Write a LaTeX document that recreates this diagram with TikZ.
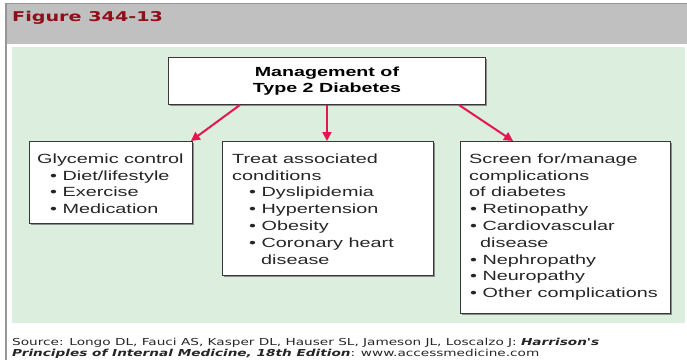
\documentclass[tikz,border=0pt]{standalone}
\usepackage{fontspec}
\usetikzlibrary{arrows.meta,shadows}
\newfontfamily\boxfont[FakeStretch=1.49]{Liberation Sans}
\newfontfamily\webfont[FakeStretch=1.42]{DejaVu Sans}
\definecolor{hdrgray}{RGB}{192,192,192}
\definecolor{edgegray}{RGB}{150,150,150}
\definecolor{panel}{RGB}{220,238,222}
\definecolor{arrowred}{RGB}{228,22,80}
\definecolor{figred}{RGB}{145,14,24}
\tikzset{
  box/.style={draw=black!78, line width=0.9pt, fill=white, anchor=north west,
    inner sep=0pt, drop shadow={shadow xshift=1.6pt, shadow yshift=-1.6pt, fill=black!45, opacity=1}},
  body/.style={font=\boxfont\fontsize{13.3}{16}\selectfont, text=black!85, anchor=base west, inner sep=0pt},
  arr/.style={draw=arrowred, line width=2pt, -{Triangle[length=9pt,width=9pt]}},
  src/.style={font=\webfont\fontsize{9.6}{11}\selectfont, text=black!85, anchor=base west, inner sep=0pt}
}
\newcommand{\srcem}[1]{{\bfseries\itshape #1}}
\begin{document}
\begin{tikzpicture}[x=1pt,y=-1pt]
\useasboundingbox (0,0) rectangle (687,360);
\fill[white] (0,0) rectangle (687,360);
% header band and page frame
\fill[hdrgray] (6,3) rectangle (687,44);
\draw[edgegray, line width=1pt] (6,3) -- (687,3);
\draw[edgegray, line width=1.6pt] (6,3) -- (6,360);
\node[font=\webfont\bfseries\fontsize{13.5}{16}\selectfont, text=figred, anchor=base west, inner sep=0pt] (fig) at (12,21) {Figure 344-13};
% green panel
\fill[panel] (12,47) rectangle (685,323);

% boxes
\node[box, minimum width=317pt, minimum height=47pt, align=center,
      font=\boxfont\bfseries\fontsize{13.2}{15.6}\selectfont] (title) at (168,57) {Management of\\Type 2 Diabetes};
\node[box, minimum width=163pt, minimum height=82pt] (gbox) at (29,141) {};
\node[box, minimum width=211pt, minimum height=134pt] (tbox) at (222,141) {};
\node[box, minimum width=210pt, minimum height=172pt] (sbox) at (460,141) {};

% connectors
\draw[arr] ([xshift=72pt]title.south west) -- ([xshift=-2pt]gbox.north east);
\draw[arr] (title.south) -- (title.south |- tbox.north);
\draw[arr] ([xshift=-27pt]title.south east) -- ([xshift=53pt]sbox.north west);

% glycemic control
\node[body] (g1) at (37,163.5) {Glycemic control};
\node[body] (g2) at (50,180.0) {\textbullet\ Diet/lifestyle};
\node[body] (g3) at (50,196.5) {\textbullet\ Exercise};
\node[body] (g4) at (50,213.0) {\textbullet\ Medication};

% associated conditions
\node[body] (t1) at (232,163.3) {Treat associated};
\node[body] (t2) at (232,180.1) {conditions};
\node[body] (t3) at (249,196.9) {\textbullet\ Dyslipidemia};
\node[body] (t4) at (249,213.7) {\textbullet\ Hypertension};
\node[body] (t5) at (249,230.5) {\textbullet\ Obesity};
\node[body] (t6) at (249,247.3) {\textbullet\ Coronary heart};
\node[body] (t7) at (261,264.1) {disease};

% complications
\node[body] (s1) at (469,163.3) {Screen for/manage};
\node[body] (s2) at (469,180.1) {complications};
\node[body] (s3) at (469,196.9) {of diabetes};
\node[body] (s4) at (470,213.7) {\textbullet\ Retinopathy};
\node[body] (s5) at (470,230.5) {\textbullet\ Cardiovascular};
\node[body] (s6) at (480,247.3) {disease};
\node[body] (s7) at (470,264.1) {\textbullet\ Nephropathy};
\node[body] (s8) at (470,280.9) {\textbullet\ Neuropathy};
\node[body] (s9) at (470,297.7) {\textbullet\ Other complications};

% source line
\node[src] (src1) at (12,345.5) {Source: Longo DL, Fauci AS, Kasper DL, Hauser SL, Jameson JL, Loscalzo J: \srcem{Harrison's}};
\node[src] (src2) at (12,356.5) {\srcem{Principles of Internal Medicine, 18th Edition}: www.accessmedicine.com};
\end{tikzpicture}
\end{document}
